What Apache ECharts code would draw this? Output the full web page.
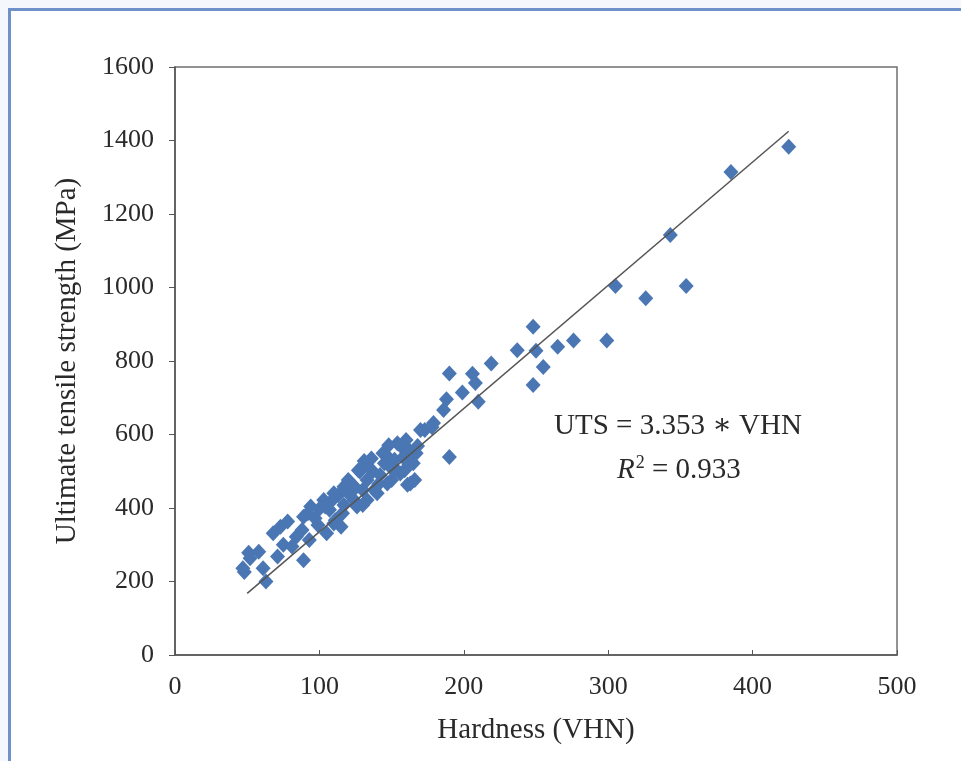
<!DOCTYPE html>
<html>
<head>
<meta charset="utf-8">
<script src="https://cdn.jsdelivr.net/npm/echarts@6/dist/echarts.min.js"></script>
<style>
html,body{margin:0;padding:0;background:#f4f8fc;}
#chart{width:961px;height:761px;}
</style>
</head>
<body>
<div id="chart"></div>
<script>
// Hardness (VHN) values
const hardness = [48,47,51,52,58,61,63,68,71,73,75,78,81,84,88,89,89,92,93,94,97,99,
  103,104,105,107,110,110,111,113,115,116,117,117,120,120,122,124,126,127,128,130,130,
  132,133,133,136,138,140,142,144,145,147,148,149,150,152,154,156,157,159,160,160,161,163,163,165,166,167,168,170,173,178,179,
  186,188,190,190,199,206,208,210,219,237,248,250,255,248,265,276,299,305,326,343,354,385,425,
  100,108,125,131,137,141,153,158,146,162];
// Ultimate tensile strength (MPa) values
const uts = [226,236,278,263,281,236,200,331,268,349,300,363,295,322,340,258,376,386,313,404,372,354,
  422,404,331,395,440,358,367,435,349,386,408,458,440,476,467,422,404,503,499,408,449,
  517,422,476,535,449,440,490,549,522,467,571,512,476,531,576,494,566,503,567,585,463,467,550,522,476,549,569,612,612,620,631,
  667,696,766,539,714,765,740,689,793,829,893,828,784,735,839,856,856,1004,971,1143,1004,1314,1383,
  398,418,455,528,500,465,505,538,545,518];
// Regression
const slope = 3.353;
const r2 = '0.933';
const trendX = [50, 425];
const xTicks = [0, 100, 200, 300, 400, 500];
const yTicks = [0, 200, 400, 600, 800, 1000, 1200, 1400, 1600];

const points = hardness.map((h, i) => [h, uts[i]]);
const trend = trendX.map(x => [x, slope * x]);

const chart = echarts.init(document.getElementById('chart'));
const serif = '"Liberation Serif", "DejaVu Serif", serif';
const txt = '#2a2a2a';
chart.setOption({
  backgroundColor: '#f4f8fc',
  animation: false,
  graphic: [
    {type: 'rect', left: 8, top: 8, shape: {width: 1000, height: 800},
     style: {fill: '#ffffff', stroke: '#6f91c9', lineWidth: 3}, z: -10}
  ],
  grid: {left: 175, right: 64, top: 67, bottom: 106, show: true,
         borderColor: '#707070', borderWidth: 1.5, backgroundColor: 'transparent'},
  xAxis: {
    type: 'value', min: xTicks[0], max: xTicks[xTicks.length - 1], interval: 100,
    name: 'Hardness (VHN)', nameLocation: 'middle', nameGap: 61,
    nameTextStyle: {fontFamily: serif, fontSize: 29, color: txt},
    axisLine: {lineStyle: {color: '#555', width: 1.5}},
    axisTick: {show: true, inside: true, length: 5, lineStyle: {color: '#555'}},
    axisLabel: {fontFamily: serif, fontSize: 26, color: txt, margin: 19, formatter: v => String(v)},
    splitLine: {show: false}
  },
  yAxis: {
    type: 'value', min: yTicks[0], max: yTicks[yTicks.length - 1], interval: 200,
    name: 'Ultimate tensile strength (MPa)', nameLocation: 'middle', nameGap: 93,
    nameTextStyle: {fontFamily: serif, fontSize: 29, color: txt},
    axisLine: {show: true, lineStyle: {color: '#555', width: 1.5}},
    axisTick: {show: true, inside: false, length: 6, lineStyle: {color: '#555'}},
    axisLabel: {fontFamily: serif, fontSize: 26, color: txt, margin: 21, formatter: v => String(v)},
    splitLine: {show: false}
  },
  series: [
    {type: 'scatter', data: points, symbol: 'diamond', symbolSize: [15, 16],
     itemStyle: {color: '#4a77b4', opacity: 1}, z: 2},
    {type: 'line', data: trend, showSymbol: false, symbol: 'none',
     lineStyle: {color: '#555', width: 1.5}, z: 3}
  ],
  title: [
    {text: 'UTS = 3.353 \u2217 VHN', left: 549, top: 407,
     textStyle: {fontFamily: serif, fontSize: 29, fontWeight: 'normal', color: txt}},
    {text: '{i|R}{s|2} = ' + r2, left: 612, top: 449,
     textStyle: {fontFamily: serif, fontSize: 29, fontWeight: 'normal', color: txt,
       rich: {i: {fontFamily: serif, fontSize: 29, fontStyle: 'italic', color: txt},
              s: {fontFamily: serif, fontSize: 18, color: txt, verticalAlign: 'top', padding: [0,0,14,1]}}}}
  ]
});
</script>
</body>
</html>
